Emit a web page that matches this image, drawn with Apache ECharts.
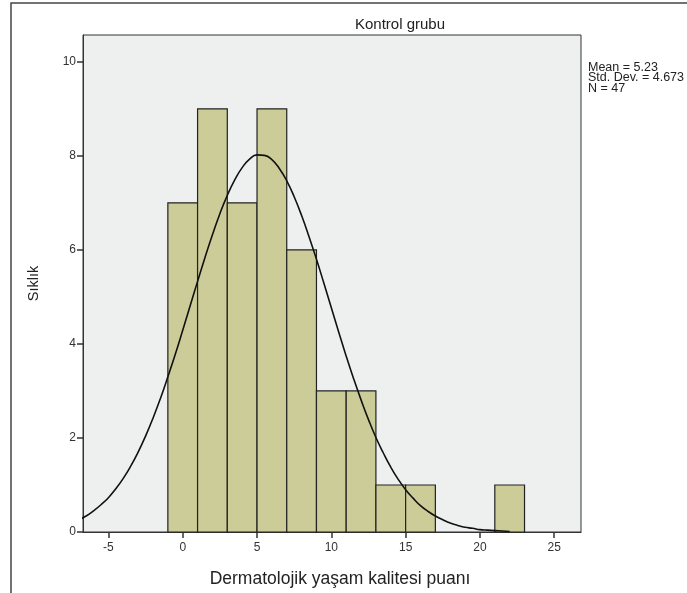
<!DOCTYPE html>
<html>
<head>
<meta charset="utf-8">
<script src="https://cdn.jsdelivr.net/npm/echarts@6/dist/echarts.min.js"></script>
<style>html,body{margin:0;padding:0;background:#fff;}#c{width:687px;height:593px;}</style>
</head>
<body>
<div id="c"></div>
<script>
// Histogram bins (start, end) and counts
const binStarts = [-1, 1, 3, 5, 7, 9, 11, 13, 15, 21];
const binEnds   = [ 1, 3, 5, 7, 9, 11, 13, 15, 17, 23];
const counts    = [ 7, 9, 7, 9, 6, 3, 3, 1, 1, 1];
// Normal curve
const curveX = [-7,-6.5,-6,-5.5,-5,-4.5,-4,-3.5,-3,-2.5,-2,-1.5,-1,-0.5,0,0.5,1,1.5,2,2.5,3,3.5,4,4.5,5,5.5,6,6.5,7,7.5,8,8.5,9,9.5,10,10.5,11,11.5,12,12.5,13,13.5,14,14.5,15,15.5,16,16.5,17,17.5,18,18.5,19,19.5,20,20.5,21,21.5,22];
const curveY = [0.26,0.34,0.45,0.58,0.73,0.92,1.14,1.40,1.70,2.04,2.42,2.84,3.30,3.78,4.29,4.81,5.33,5.84,6.32,6.77,7.16,7.49,7.75,7.93,8.02,8.01,7.92,7.73,7.47,7.13,6.73,6.28,5.80,5.29,4.77,4.25,3.74,3.26,2.81,2.39,2.01,1.68,1.38,1.12,0.90,0.72,0.56,0.44,0.34,0.26,0.19,0.14,0.10,0.08,0.05,0.04,0.03,0.02,0.01];
const xTicks = [-5, 0, 5, 10, 15, 20, 25];
const yTicks = [0, 2, 4, 6, 8, 10];
const statsLines = ['Mean = 5.23', 'Std. Dev. = 4.673', 'N = 47'];

const barData = binStarts.map((s, i) => [s, binEnds[i], counts[i]]);
const lineData = curveX.map((x, i) => [x, curveY[i]]);

const chart = echarts.init(document.getElementById('c'));
const font = 'Liberation Sans, Arial, sans-serif';
chart.setOption({
  animation: false,
  backgroundColor: '#fff',
  title: {
    text: 'Kontrol grubu',
    left: 395, top: 12, textAlign: 'center',
    textStyle: { fontFamily: font, fontSize: 15, fontWeight: 'normal', color: '#222' }
  },
  grid: {
    left: 83, top: 35, right: 106, bottom: 61,
    show: true, backgroundColor: '#EEF0F0', borderColor: '#333', borderWidth: 1
  },
  xAxis: {
    type: 'value', min: -6.71, max: 26.8,
    name: 'Dermatolojik yaşam kalitesi puanı', nameLocation: 'middle', nameGap: 38,
    nameTextStyle: { fontFamily: font, fontSize: 17.5, color: '#222', padding: [0, 0, 0, 16] },
    axisLine: { show: true, onZero: false, lineStyle: { color: '#333' } },
    axisTick: { show: true, customValues: xTicks, length: 6, lineStyle: { color: '#333', width: 1.5 } },
    axisLabel: { customValues: xTicks, fontFamily: font, fontSize: 12, color: '#333', margin: 10 },
    splitLine: { show: false }
  },
  yAxis: {
    type: 'value', min: 0, max: 10.57,
    name: 'Sıklık', nameLocation: 'middle', nameGap: 42, nameRotate: 90,
    nameTextStyle: { fontFamily: font, fontSize: 14.5, color: '#222' },
    axisLine: { show: true, onZero: false, lineStyle: { color: '#333' } },
    axisTick: { show: true, customValues: yTicks, length: 6, lineStyle: { color: '#333', width: 1.5 } },
    axisLabel: { customValues: yTicks, fontFamily: font, fontSize: 12, color: '#333', margin: 7 },
    splitLine: { show: false }
  },
  graphic: [
    { type: 'rect', shape: { x: 11, y: 3, width: 720, height: 700 }, style: { fill: 'none', stroke: '#444', lineWidth: 1.5 }, z: -10, silent: true },
    { type: 'text', x: 588, y: 62, style: { text: statsLines.join('\n'), font: '12.5px ' + font, fill: '#222', lineHeight: 10.6 } }
  ],
  series: [
    {
      type: 'custom',
      data: barData,
      encode: { x: [0, 1], y: 2 },
      renderItem: function (params, api) {
        const p0 = api.coord([api.value(0), api.value(2)]);
        const p1 = api.coord([api.value(1), 0]);
        return {
          type: 'rect',
          shape: { x: p0[0], y: p0[1], width: p1[0] - p0[0], height: p1[1] - p0[1] },
          style: { fill: '#CCCC99', stroke: '#222', lineWidth: 1.2 }
        };
      }
    },
    {
      type: 'line',
      data: lineData,
      smooth: true,
      symbol: 'none',
      clip: true,
      lineStyle: { color: '#111', width: 1.6 },
      z: 5
    }
  ]
});
</script>
</body>
</html>
